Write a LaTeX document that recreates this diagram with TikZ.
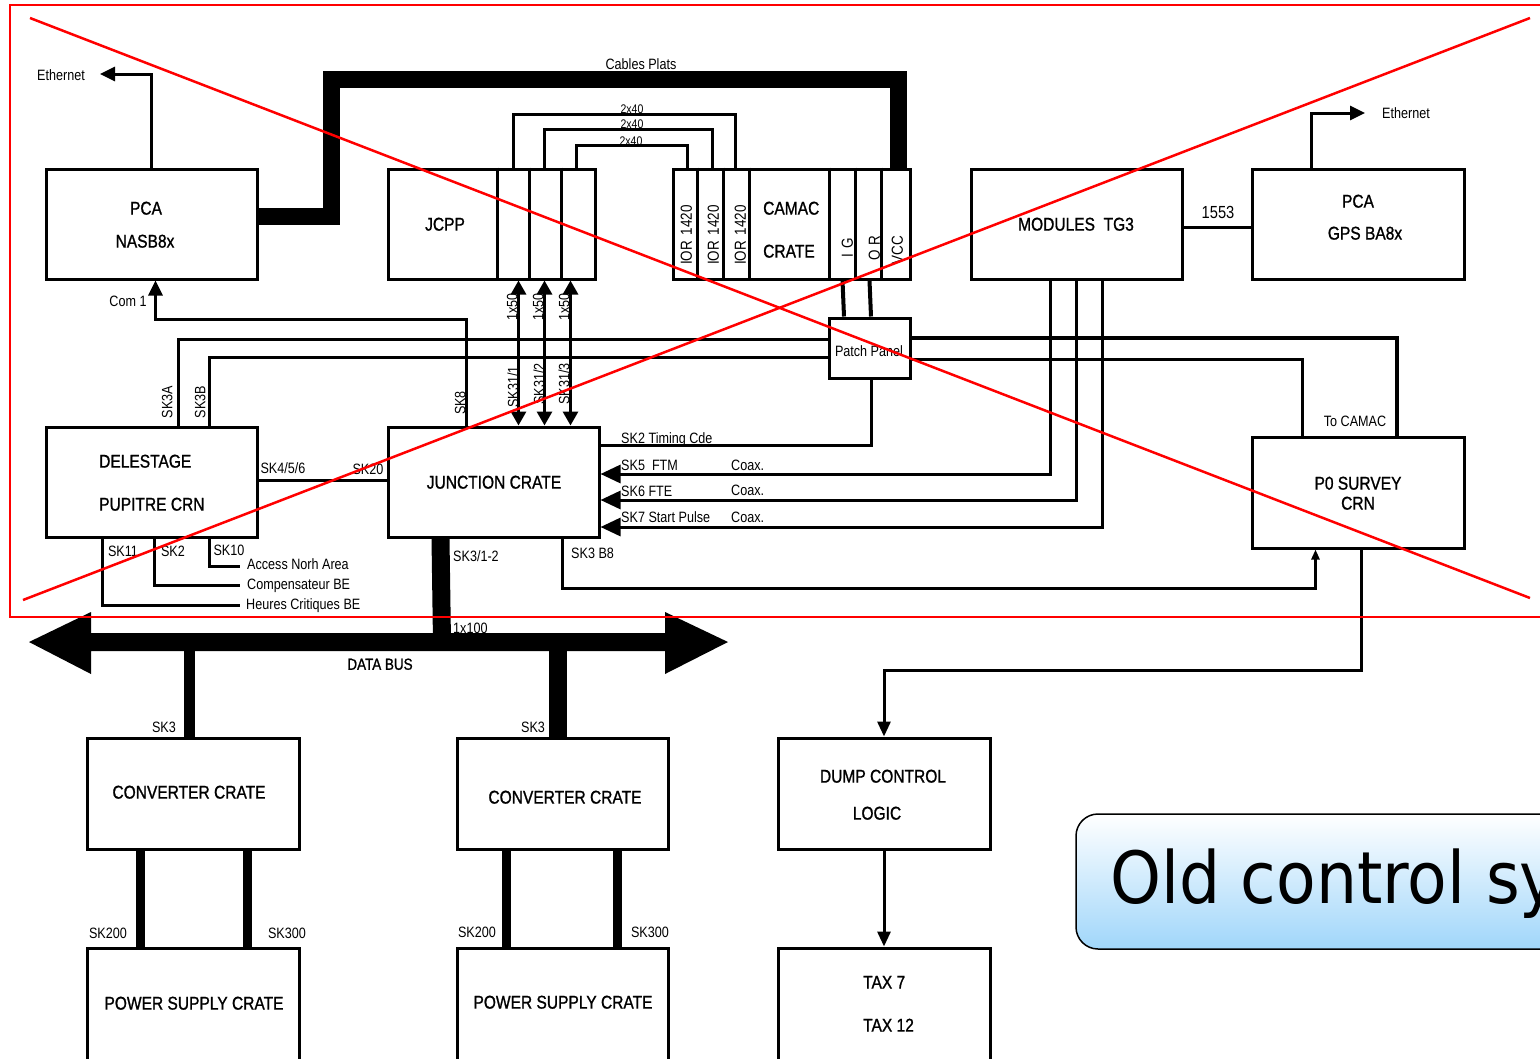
\documentclass[tikz,border=0pt]{standalone}
\usepackage{fontspec}
\setmainfont[FakeStretch=0.84]{Liberation Sans}
\newfontfamily\boxfont[FakeStretch=0.84,FakeBold=1.1]{Liberation Sans}
\newfontfamily\titlefont[FakeStretch=0.9]{DejaVu Sans}
\usetikzlibrary{arrows.meta}
\begin{document}
\begin{tikzpicture}[x=1pt,y=-1pt,
  box/.style={draw, line width=3pt, inner sep=0pt},
  wire/.style={line width=3pt},
  divider/.style={line width=3.5pt},
  cable/.style={line width=17pt, line join=miter},
  lbl/.style={inner sep=0pt, font=\fontsize{15}{18}\selectfont, text height=10.7pt, text depth=0pt},
  big/.style={inner sep=0pt, font=\boxfont\fontsize{18.5}{22}\selectfont, text height=13.2pt, text depth=0pt},
  mid/.style={inner sep=0pt, font=\fontsize{16}{19}\selectfont, text height=11.5pt, text depth=0pt},
  tiny/.style={inner sep=0pt, font=\fontsize{12.5}{15}\selectfont, text height=9pt, text depth=0pt},
  tipeth/.style={-{Triangle[length=15pt,width=14pt]}},
  tipcoax/.style={-{Triangle[length=20pt,width=18pt]}},
  tipdbl/.style={{Triangle[length=14pt,width=15pt]}-{Triangle[length=14pt,width=15pt]}},
  tipsmall/.style={-{Triangle[length=10pt,width=8pt]}},
  tipdump/.style={-{Triangle[length=15pt,width=13pt]}},
  redline/.style={draw=red, line width=2.5pt}
]
\useasboundingbox (0,0) rectangle (1540,1058);

% ---------------- boxes ----------------
\node[box, minimum width=211, minimum height=110] (pca) at (151.5,224) {};
\node[box, minimum width=207, minimum height=110] (jcpp) at (491.5,224) {};
\node[box, minimum width=237, minimum height=110] (camac) at (791.5,224) {};
\node[box, minimum width=211, minimum height=110] (tg3) at (1076.5,224) {};
\node[box, minimum width=212, minimum height=110] (gps) at (1358,224) {};
\node[box, minimum width=81, minimum height=60] (patch) at (869.5,348) {};
\node[box, minimum width=211, minimum height=110] (delest) at (151.5,482) {};
\node[box, minimum width=211, minimum height=110] (junction) at (493.5,482) {};
\node[box, minimum width=212, minimum height=111] (p0) at (1358,492.5) {};
\node[box, minimum width=212, minimum height=111] (conv1) at (193,793.5) {};
\node[box, minimum width=211, minimum height=111] (conv2) at (562.5,793.5) {};
\node[box, minimum width=212, minimum height=118] (ps1) at (193,1007) {};
\node[box, minimum width=211, minimum height=118] (ps2) at (562.5,1007) {};
\node[box, minimum width=212, minimum height=111] (dump) at (884,793.5) {};
\node[box, minimum width=212, minimum height=118] (tax) at (884,1007) {};

% dividers
\foreach \dx in {111,143,175}
  \draw[divider] ([xshift=\dx]jcpp.north west) -- ([xshift=\dx]jcpp.south west);
\foreach \dx in {26,52,78,158,184,210}
  \draw[divider] ([xshift=\dx]camac.north west) -- ([xshift=\dx]camac.south west);

% ---------------- connectors ----------------
\coordinate (eth1end) at (100,74);
\draw[wire, tipeth] (pca.north) |- (eth1end);
\coordinate (eth2end) at (1365,113);
\draw[wire, tipeth] ([xshift=61]gps.north west) |- (eth2end);

\draw[wire, tipeth] ([xshift=80]junction.north west) -- ++(0,-106) -| ([xshift=111]pca.south west);

\draw[cable] ([yshift=8]pca.east) -- ++(73,0) -- ++(0,-137) -| ([xshift=227]camac.north west);

\draw[wire] ([xshift=127]jcpp.north west) -- ++(0,-53) -| ([xshift=64]camac.north west);
\draw[wire] ([xshift=158]jcpp.north west) -- ++(0,-38) -| ([xshift=41]camac.north west);
\draw[wire] ([xshift=190]jcpp.north west) -- ++(0,-22) -| ([xshift=16]camac.north west);

\foreach \dx in {132,158,184}
  \draw[wire, tipdbl] ([xshift=\dx]jcpp.south west) -- ([xshift=\dx]junction.north west);

\draw[wire] ([xshift=134]delest.north west) |- ([yshift=9]patch.west);
\draw[wire] ([xshift=165]delest.north west) |- ([yshift=-9]patch.west);

\draw[line width=4pt] ([yshift=10]patch.east) -| ([xshift=146]p0.north west);
\draw[wire] ([yshift=-11]patch.east) -| ([xshift=52]p0.north west);

\draw[line width=4pt] ([xshift=171]camac.south west) -- ([xshift=-25.5]patch.north);
\draw[line width=4pt] ([xshift=198]camac.south west) -- ([xshift=1.5]patch.north);

\draw[wire] ([yshift=37]junction.east) -| ([xshift=1.5]patch.south);

\draw[wire, tipcoax] ([xshift=81]tg3.south west) |- ([yshift=8]junction.east);
\draw[wire, tipcoax] ([xshift=107]tg3.south west) |- ([yshift=-18]junction.east);
\draw[wire, tipcoax] ([xshift=133]tg3.south west) |- ([yshift=-45]junction.east);

\draw[wire] ([yshift=2]delest.east) -- ([yshift=2]junction.west);

\coordinate (ana) at (240,566);
\coordinate (cbe) at (240,585);
\coordinate (hcbe) at (240,605);
\draw[wire] ([xshift=165]delest.south west) |- (ana);
\draw[wire] ([xshift=110]delest.south west) |- (cbe);
\draw[wire] ([xshift=58]delest.south west) |- (hcbe);

\draw[wire] ([yshift=-3]tg3.east) -- ([yshift=-3]gps.west);

\draw[wire, tipsmall] ([xshift=176]junction.south west) -- ++(0,50) -| ([xshift=65]p0.south west);

\draw[wire, tipdump] ([xshift=111]p0.south west) -- ++(0,121) -| (dump.north);
\draw[wire, tipdump] (dump.south) -- (tax.north);

% data bus
\coordinate (busL) at (29,642);
\coordinate (busR) at (728,642);
\fill (busL) -- (91,612) -- (91,633) -- (665,633) -- (665,612) -- (busR) -- (665,674) -- (665,651) -- (91,651) -- (91,674) -- cycle;
\coordinate (tap1) at (442,642);
\coordinate (tap2) at (189,642);
\coordinate (tap3) at (558,642);
\draw[line width=18pt] ([xshift=54]junction.south west) -- (tap1);
\draw[line width=11pt] (tap2) -- (tap2 |- conv1.north);
\draw[line width=18pt] (tap3) -- (tap3 |- conv2.north);

\draw[line width=9pt] ([xshift=54.5]conv1.south west) -- ([xshift=54.5]ps1.north west);
\draw[line width=9pt] ([xshift=162]conv1.south west) -- ([xshift=162]ps1.north west);
\draw[line width=9pt] ([xshift=50.5]conv2.south west) -- ([xshift=50.5]ps2.north west);
\draw[line width=9pt] ([xshift=161.5]conv2.south west) -- ([xshift=161.5]ps2.north west);

% ---------------- texts ----------------
\node[big] (tpca1) at (146,208) {PCA};
\node[big] (tpca2) at (145,241) {NASB8x};
\node[lbl] (teth1) at (61,75) {Ethernet};
\node[lbl] (tcom1) at (128,301) {Com 1};
\node[lbl] (tcab) at (641,64) {Cables Plats};
\node[tiny] (t2x40a) at (632,109) {2x40};
\node[tiny] (t2x40b) at (632,124) {2x40};
\node[tiny] (t2x40c) at (631,141) {2x40};
\node[big] (tjcpp) at (445,224) {JCPP};
\node[mid, rotate=90] (tior1) at (686,235) {IOR\hspace{6pt}1420};
\node[mid, rotate=90] (tior2) at (713,235) {IOR\hspace{6pt}1420};
\node[mid, rotate=90] (tior3) at (740,235) {IOR\hspace{6pt}1420};
\node[big, anchor=west] (tcam1) at (763,208) {CAMAC};
\node[big, anchor=west] (tcam2) at (763,251) {CRATE};
\node[mid, rotate=90] (tig) at (847,248) {I\hspace{5pt}G};
\node[mid, rotate=90] (tor) at (874,248) {O\hspace{4pt}R};
\node[mid, rotate=90] (tvcc) at (897,250) {VCC};
\node[big] (ttg3) at (1076,224) {MODULES\ \ TG3};
\node[inner sep=0pt, font=\fontsize{17.5}{20}\selectfont, text height=12.5pt, text depth=0pt] (t1553) at (1218,212) {1553};
\node[big] (tgps1) at (1358,201) {PCA};
\node[big] (tgps2) at (1365,233) {GPS BA8x};
\node[lbl] (teth2) at (1406,113) {Ethernet};
\node[lbl] (tpatch) at (869,351) {Patch Panel};
\node[lbl] (ttocamac) at (1355,421) {To CAMAC};
\node[big] (tp01) at (1358,483) {P0 SURVEY};
\node[big] (tp02) at (1358,503) {CRN};
\node[lbl, rotate=90] (tsk3a) at (167,402) {SK3A};
\node[lbl, rotate=90] (tsk3b) at (200,402) {SK3B};
\node[big, anchor=west] (tdel1) at (99,461) {DELESTAGE};
\node[big, anchor=west] (tdel2) at (99,504) {PUPITRE CRN};
\node[lbl] (tsk456) at (283,468) {SK4/5/6};
\node[lbl] (tsk20) at (368,469) {SK20};
\node[lbl] (tsk11) at (123,551) {SK11};
\node[lbl] (tsk2) at (173,551) {SK2};
\node[lbl] (tsk10) at (229,550) {SK10};
\node[lbl, anchor=west] (tana) at (247,564) {Access Norh Area};
\node[lbl, anchor=west] (tcbe) at (247,584) {Compensateur BE};
\node[lbl, anchor=west] (thcbe) at (246,604) {Heures Critiques BE};
\node[lbl, rotate=90] (tsk8) at (460,403) {SK8};
\node[lbl, rotate=90] (t1x50a) at (512,307) {1x50};
\node[lbl, rotate=90] (t1x50b) at (538,307) {1x50};
\node[lbl, rotate=90] (t1x50c) at (564,307) {1x50};
\node[lbl, rotate=90] (tsk311) at (513,387) {SK31/1};
\node[lbl, rotate=90] (tsk312) at (539,384) {SK31/2};
\node[lbl, rotate=90] (tsk313) at (564,384) {SK31/3};
\node[big] (tjunc) at (494,482) {JUNCTION CRATE};
\node[lbl, anchor=west] (ttim) at (621,438) {SK2 Timing Cde};
\node[lbl, anchor=west] (tsk5) at (621,465) {SK5\ \ FTM};
\node[lbl, anchor=west] (tsk6) at (621,491) {SK6 FTE};
\node[lbl, anchor=west] (tsk7) at (621,517) {SK7 Start Pulse};
\node[lbl, anchor=west] (tco1) at (731,465) {Coax.};
\node[lbl, anchor=west] (tco2) at (731,490) {Coax.};
\node[lbl, anchor=west] (tco3) at (731,517) {Coax.};
\node[lbl, anchor=west] (tsk312b) at (453,556) {SK3/1-2};
\node[lbl, anchor=west] (tsk3b8) at (571,553) {SK3 B8};
\node[lbl, anchor=west] (t1x100) at (453,628) {1x100};
\node[inner sep=0pt, font=\boxfont\fontsize{16}{19}\selectfont, text height=11.5pt, text depth=0pt] (tbus) at (380,664) {DATA BUS};
\node[lbl] (tsk3l) at (164,727) {SK3};
\node[lbl] (tsk3r) at (533,727) {SK3};
\node[big] (tconv1) at (189,792) {CONVERTER CRATE};
\node[big] (tconv2) at (565,797) {CONVERTER CRATE};
\node[lbl] (tsk200a) at (108,933) {SK200};
\node[lbl] (tsk300a) at (287,933) {SK300};
\node[lbl] (tsk200b) at (477,932) {SK200};
\node[lbl] (tsk300b) at (650,932) {SK300};
\node[big] (tps1) at (194,1003) {POWER SUPPLY CRATE};
\node[big] (tps2) at (563,1002) {POWER SUPPLY CRATE};
\node[big] (tdump1) at (883,776) {DUMP CONTROL};
\node[big] (tdump2) at (877,813) {LOGIC};
\node[big, anchor=west] (ttax1) at (863,982) {TAX 7};
\node[big, anchor=west] (ttax2) at (863,1025) {TAX 12};

% ---------------- title ----------------
\node[draw, line width=1.5pt, rounded corners=22pt, top color=white,
      bottom color={rgb,255:red,160;green,214;blue,250},
      minimum width=560, minimum height=135, inner sep=0pt] (titlebox) at (1356,881.5) {};
\node[inner sep=0pt, anchor=base west, font=\titlefont\fontsize{72}{84}\selectfont] (titletext) at (1110,903) {Old control system};

% ---------------- red cross ----------------
\draw[draw=red, line width=1.5pt] (1560,5) -- (10,5) -- (10,617) -- (1560,617);
\draw[redline] (30,18) -- (1530,598);
\draw[redline] (23,600) -- (1530,18);
\end{tikzpicture}
\end{document}
